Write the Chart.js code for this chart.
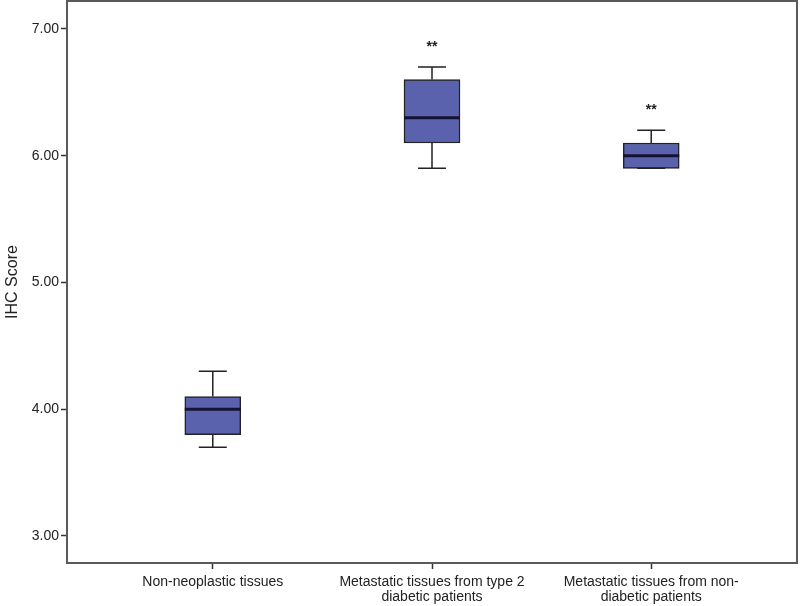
<!DOCTYPE html>
<html>
<head>
<meta charset="utf-8">
<script src="https://cdn.jsdelivr.net/npm/chart.js@4.4.1/dist/chart.umd.min.js"></script>
<style>
  body { margin: 0; background: #fff; }
</style>
</head>
<body>
<canvas id="boxChart" width="800" height="606"></canvas>
<script>
// groups on the x axis (multi-line labels)
const groupLabels = [
    ["Non-neoplastic tissues"],
    ["Metastatic tissues from type 2", "diabetic patients"],
    ["Metastatic tissues from non-", "diabetic patients"]
];
const groupPos = [1, 2, 3];

// box plot values
const whiskerLow = [3.7, 5.9, 5.9];
const q1Values = [3.8, 6.1, 5.9];
const medians = [4.0, 6.3, 6.0];
const q3Values = [4.1, 6.6, 6.1];
const whiskerHigh = [4.3, 6.7, 6.2];
const marks = ["", "**", "**"];

const yTicks = [3, 4, 5, 6, 7];

const axisColor = "#5a5a5a";
const fontFamily = "'Liberation Sans', Arial, sans-serif";

// whiskers, medians, stars and frame
const boxExtras = {
    id: "boxExtras",
    afterDatasetsDraw(chart) {
        const ctx = chart.ctx;
        const x = chart.scales.x;
        const y = chart.scales.y;
        const bars = chart.getDatasetMeta(0).data;
        ctx.save();
        groupPos.forEach((p, i) => {
            const cx = x.getPixelForValue(p);
            const half = bars[i].width / 2;
            const cap = half / 2;
            ctx.strokeStyle = "#222";
            ctx.lineWidth = 1.5;
            // upper whisker
            ctx.beginPath();
            ctx.moveTo(cx, y.getPixelForValue(q3Values[i]));
            ctx.lineTo(cx, y.getPixelForValue(whiskerHigh[i]));
            ctx.moveTo(cx - cap, y.getPixelForValue(whiskerHigh[i]));
            ctx.lineTo(cx + cap, y.getPixelForValue(whiskerHigh[i]));
            // lower whisker
            ctx.moveTo(cx, y.getPixelForValue(q1Values[i]));
            ctx.lineTo(cx, y.getPixelForValue(whiskerLow[i]));
            ctx.moveTo(cx - cap, y.getPixelForValue(whiskerLow[i]));
            ctx.lineTo(cx + cap, y.getPixelForValue(whiskerLow[i]));
            ctx.stroke();
            // median
            ctx.strokeStyle = "#141432";
            ctx.lineWidth = 3;
            ctx.beginPath();
            ctx.moveTo(cx - half, y.getPixelForValue(medians[i]));
            ctx.lineTo(cx + half, y.getPixelForValue(medians[i]));
            ctx.stroke();
            // significance stars
            if (marks[i]) {
                ctx.fillStyle = "#222";
                ctx.font = "bold 14px " + fontFamily;
                ctx.textAlign = "center";
                ctx.textBaseline = "middle";
                ctx.fillText(marks[i], cx, y.getPixelForValue(whiskerHigh[i]) - 20);
            }
        });
        // frame around plot area
        const a = chart.chartArea;
        ctx.strokeStyle = axisColor;
        ctx.lineWidth = 2;
        ctx.strokeRect(a.left, a.top, a.right - a.left, a.bottom - a.top);
        ctx.restore();
    }
};

new Chart(document.getElementById("boxChart"), {
    type: "bar",
    data: {
        datasets: [{
            data: groupPos.map((p, i) => ({ x: p, y: [q1Values[i], q3Values[i]] })),
            backgroundColor: "#5a62ae",
            borderColor: "#222",
            borderWidth: 1.5,
            borderSkipped: false,
            barThickness: 56
        }]
    },
    options: {
        responsive: false,
        animation: false,
        layout: { padding: { top: 1, right: 3, left: 0, bottom: 0 } },
        plugins: {
            legend: { display: false },
            tooltip: { enabled: false }
        },
        scales: {
            x: {
                type: "linear",
                offset: false,
                min: 0.335,
                max: 3.665,
                afterBuildTicks(scale) {
                    scale.ticks = groupPos.map(v => ({ value: v }));
                },
                afterFit(scale) {
                    scale.height = 43;
                    scale.paddingLeft = 0;
                    scale.paddingRight = 0;
                },
                grid: { offset: false, drawOnChartArea: false, drawTicks: true, tickLength: 6, tickColor: "#333", tickWidth: 1.5 },
                border: { color: axisColor, width: 2 },
                ticks: {
                    autoSkip: false,
                    maxRotation: 0,
                    padding: 5,
                    color: "#222",
                    font: { family: fontFamily, size: 14, lineHeight: 1.1 },
                    callback: (v) => groupLabels[groupPos.indexOf(v)]
                }
            },
            y: {
                min: 2.787,
                max: 7.22,
                afterBuildTicks(scale) {
                    scale.ticks = yTicks.map(v => ({ value: v }));
                },
                afterFit(scale) {
                    scale.width = 67;
                    scale.paddingTop = 0;
                    scale.paddingBottom = 0;
                },
                grid: { drawOnChartArea: false, drawTicks: true, tickLength: 6, tickColor: "#333", tickWidth: 1.5 },
                border: { color: axisColor, width: 2 },
                title: {
                    display: true,
                    text: "IHC Score",
                    color: "#222",
                    padding: { top: 3, bottom: 0 },
                    font: { family: fontFamily, size: 16 }
                },
                ticks: {
                    padding: 2,
                    color: "#222",
                    font: { family: fontFamily, size: 14 },
                    callback: (v) => Number(v).toFixed(2)
                }
            }
        }
    },
    plugins: [boxExtras]
});
</script>
</body>
</html>
